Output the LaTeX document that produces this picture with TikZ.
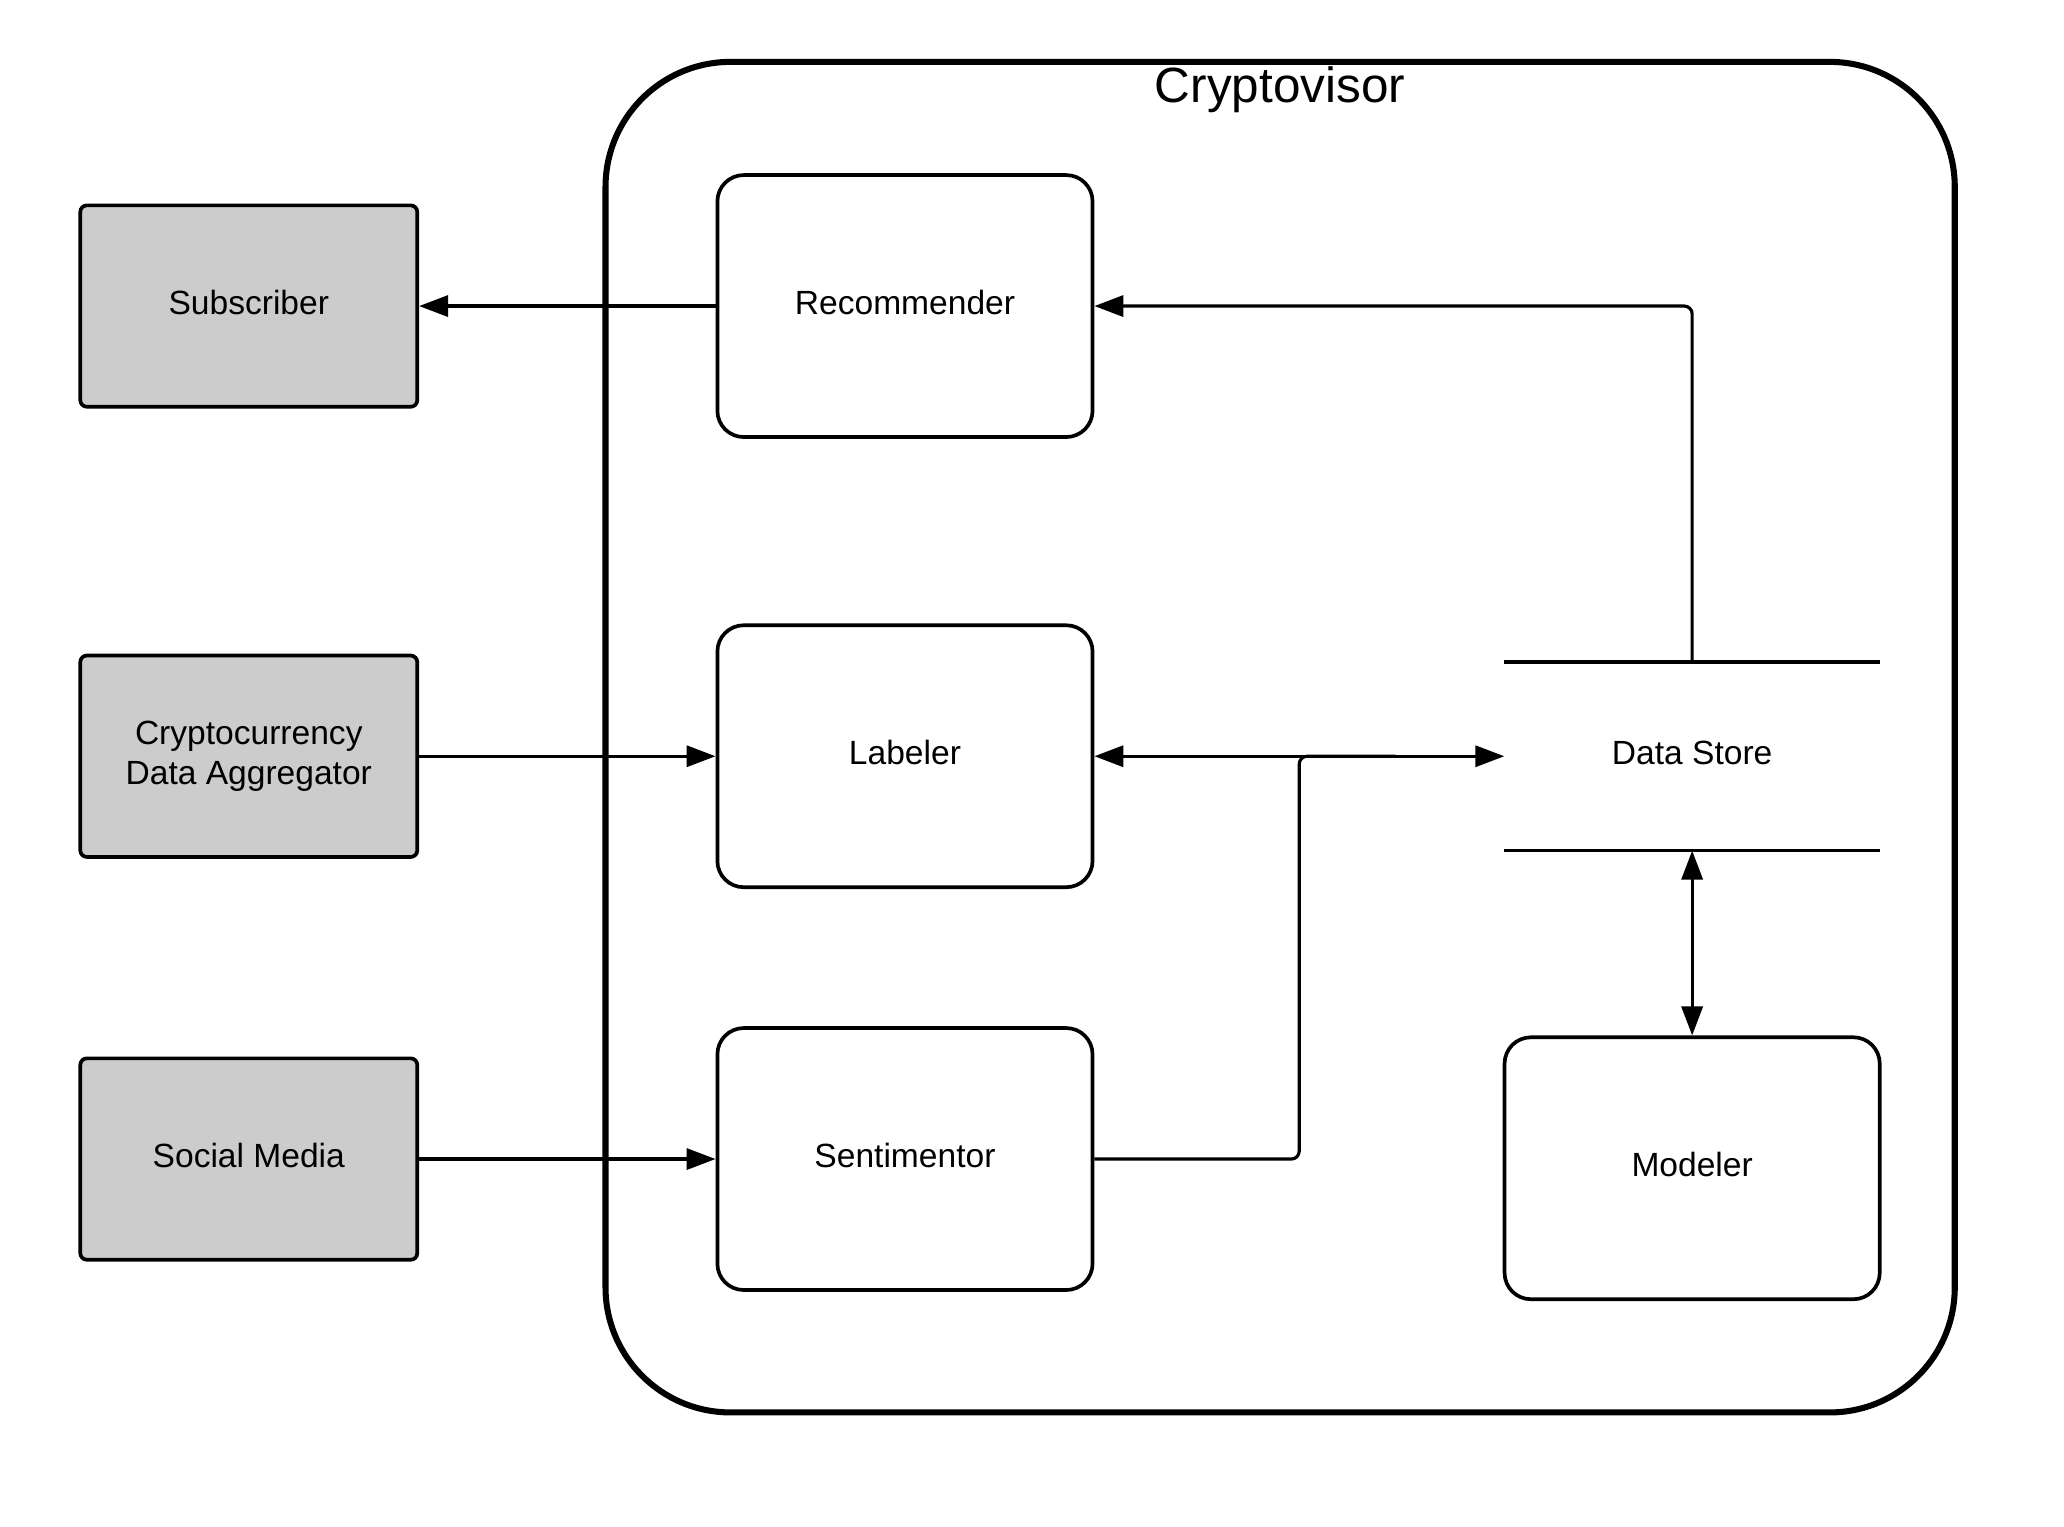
\documentclass[tikz,border=0pt]{standalone}
\usepackage{fontspec}
\setmainfont{Liberation Sans}
\usetikzlibrary{arrows.meta}
\definecolor{extgray}{HTML}{CCCCCC}
\begin{document}
\begin{tikzpicture}[x=1pt,y=-1pt,
  mytip/.tip={Triangle[length=22pt,width=16pt]},
  lbl/.style={font=\fontsize{25.5}{31}\selectfont, align=center},
  oneline/.style={text height=18.3pt, text depth=6.1pt},
  extbox/.style={draw, fill=extgray, rounded corners=5pt, line width=2.8pt,
    minimum width=256pt, minimum height=153pt, inner sep=0pt, lbl},
  procbox/.style={draw, fill=white, rounded corners=20pt, line width=2.8pt,
    minimum width=285pt, minimum height=199pt, inner sep=0pt, lbl, oneline},
  storebox/.style={minimum width=285pt, minimum height=143pt, inner sep=0pt, lbl, oneline},
  conn/.style={line width=2.4pt, -mytip},
  dconn/.style={line width=2.4pt, mytip-mytip},
  plain/.style={line width=2.4pt},
  storeline/.style={line width=2.6pt}
]
\useasboundingbox (0,0) rectangle (1568,1160);

% container
\node[draw, line width=4.6pt, rounded corners=95pt, minimum width=1025pt,
  minimum height=1026pt, inner sep=0pt] (cv) at (972.5,560) {};
\node[font=\fontsize{37.6}{40}\selectfont, anchor=base] (title) at (972.4,78) {Cryptovisor};

% external entities
\node[extbox, oneline] (sub) at (189,232.5) {Subscriber};
\node[extbox] (agg) at (189,574.5) {Cryptocurrency\\Data Aggregator};
\node[extbox, oneline] (soc) at (189,880.5) {Social Media};

% processes
\node[procbox] (rec) at (687.5,232.5) {Recommender};
\node[procbox] (lab) at (687.5,574.5) {Labeler};
\node[procbox] (sen) at (687.5,880.5) {Sentimentor};
\node[procbox] (mod) at (1285.5,887.5) {Modeler};

% data store
\node[storebox] (ds) at (1285.5,574.5) {Data Store};
\draw[storeline] (ds.north west) -- (ds.north east);
\draw[storeline] (ds.south west) -- (ds.south east);

% connectors
\coordinate (j) at (987,574.5);
\coordinate (j2) at (1060,574.5);
\draw[plain, rounded corners=6pt] (sen.east) -| (j) -- (j2);
\draw[conn] (rec.west) -- (sub.east);
\draw[conn, rounded corners=6pt] (ds.north) |- (rec.east);
\draw[conn] (agg.east) -- (lab.west);
\draw[conn] (soc.east) -- (sen.west);
\draw[dconn] (lab.east) -- (ds.west);
\draw[dconn] (ds.south) -- (mod.north);
\end{tikzpicture}
\end{document}
